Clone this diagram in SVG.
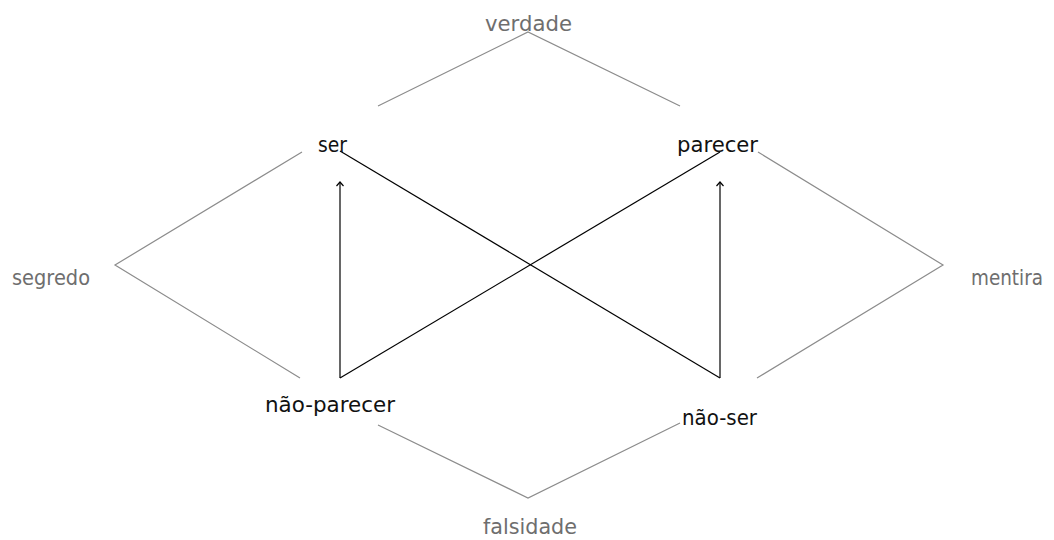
<svg xmlns="http://www.w3.org/2000/svg" width="1054" height="540" viewBox="0 0 1054 540">
<style>
.t{font-family:"DejaVu Sans","Liberation Sans",sans-serif;font-size:21px}
.g{fill:#6e6e6e}
.b{fill:#111}
.gl{stroke:#8c8c8c;stroke-width:1.2;fill:none}
.bl{stroke:#000;stroke-width:1.2;fill:none}
</style>
<defs>
<marker id="ah" markerWidth="10" markerHeight="10" refX="8" refY="5" orient="auto" markerUnits="userSpaceOnUse" viewBox="0 0 10 10">
<path d="M4,1.5 L8,5 L4,8.5" fill="none" stroke="#000" stroke-width="1.2"/>
</marker>
</defs>
<g id="connectors">
<polyline class="gl" points="378,106 528,32 680,106"/>
<polyline class="gl" points="302,152 115,265 300,378"/>
<polyline class="gl" points="758,152 943,265 757,378"/>
<polyline class="gl" points="378,425 528,498 680,423"/>
<line class="bl" x1="340" y1="151" x2="720" y2="378"/>
<line class="bl" x1="720" y1="152" x2="340" y2="378"/>
<line class="bl" x1="340" y1="378" x2="340" y2="182" marker-end="url(#ah)"/>
<line class="bl" x1="720" y1="378" x2="720" y2="182" marker-end="url(#ah)"/>
</g>
<g id="verdade"><text class="t g" x="485" y="31" textLength="87" lengthAdjust="spacingAndGlyphs">verdade</text></g>
<g id="ser"><text class="t b" x="318" y="152" textLength="29" lengthAdjust="spacingAndGlyphs">ser</text></g>
<g id="parecer"><text class="t b" x="677" y="152" textLength="81" lengthAdjust="spacingAndGlyphs">parecer</text></g>
<g id="segredo"><text class="t g" x="12" y="285" textLength="78" lengthAdjust="spacingAndGlyphs">segredo</text></g>
<g id="mentira"><text class="t g" x="971" y="285" textLength="72" lengthAdjust="spacingAndGlyphs">mentira</text></g>
<g id="nao-parecer"><text class="t b" x="265" y="412" textLength="130" lengthAdjust="spacingAndGlyphs">não-parecer</text></g>
<g id="nao-ser"><text class="t b" x="682" y="425" textLength="75" lengthAdjust="spacingAndGlyphs">não-ser</text></g>
<g id="falsidade"><text class="t g" x="483" y="534" textLength="94" lengthAdjust="spacingAndGlyphs">falsidade</text></g>
</svg>
